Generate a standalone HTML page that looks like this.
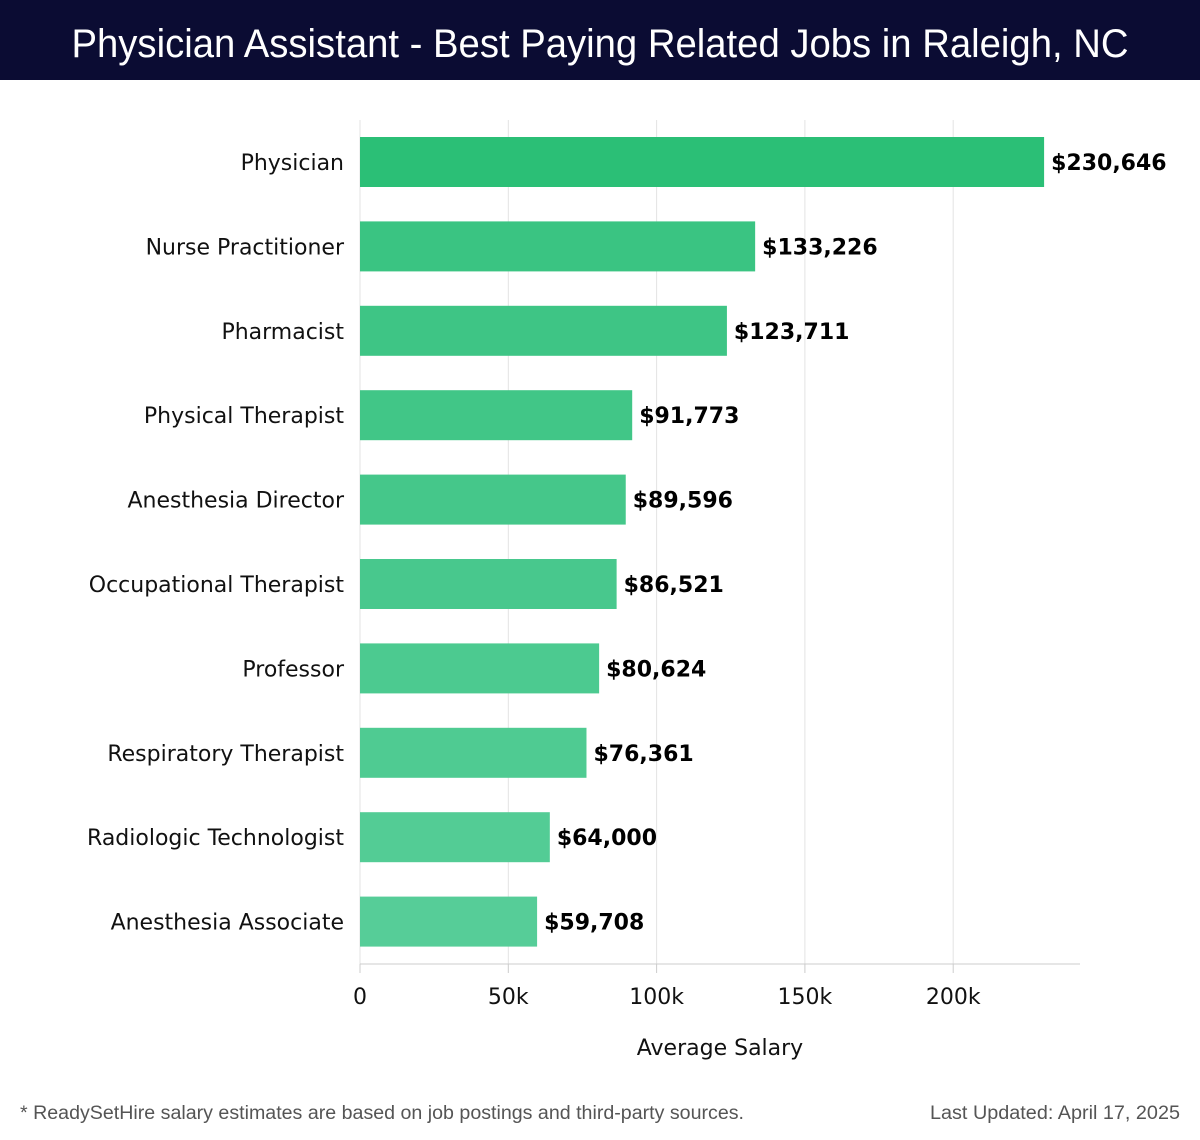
<!DOCTYPE html>
<html><head><meta charset="utf-8"><style>
html,body{margin:0;padding:0;background:#fff;}
svg{display:block;font-family:"DejaVu Sans","Liberation Sans",sans-serif;}
</style></head><body>
<svg id="chart" width="1200" height="1140" viewBox="0 0 1200 1140">
<rect x="0" y="0" width="1200" height="80" fill="#0b0c33"/>
<text x="600" y="57" text-anchor="middle" fill="#fff" font-size="40" font-family="Liberation Sans, sans-serif" textLength="1057" lengthAdjust="spacingAndGlyphs">Physician Assistant - Best Paying Related Jobs in Raleigh, NC</text>
<g id="grid"></g>
<g id="bars"></g>
<g id="axis"></g>
<text x="720" y="1055" text-anchor="middle" font-size="22" fill="#111">Average Salary</text>
<text x="20" y="1119" font-size="19" fill="#555" font-family="Liberation Sans, sans-serif" textLength="724" lengthAdjust="spacingAndGlyphs">* ReadySetHire salary estimates are based on job postings and third-party sources.</text>
<text x="1180" y="1119" text-anchor="end" font-size="19" fill="#555" font-family="Liberation Sans, sans-serif" textLength="250" lengthAdjust="spacingAndGlyphs">Last Updated: April 17, 2025</text>
</svg>
<script>
const categories = ["Physician","Nurse Practitioner","Pharmacist","Physical Therapist","Anesthesia Director","Occupational Therapist","Professor","Respiratory Therapist","Radiologic Technologist","Anesthesia Associate"];
const salaries = [230646,133226,123711,91773,89596,86521,80624,76361,64000,59708];
const tickValues = [0,50000,100000,150000,200000];
const tickLabels = ["0","50k","100k","150k","200k"];

const NS="http://www.w3.org/2000/svg";
const x0=360, pxPer=148.3/50000, plotTop=120, axisY=964, plotRight=1080;
const xs=v=>x0+v*pxPer;
const bandTop=120, band=84.4, barH=50;
const ys=i=>bandTop+17+i*band;
function mk(tag,attrs,parent){const e=document.createElementNS(NS,tag);for(const k in attrs)e.setAttribute(k,attrs[k]);parent.appendChild(e);return e;}
const grid=document.getElementById('grid'),bars=document.getElementById('bars'),axis=document.getElementById('axis');
tickValues.forEach((t,i)=>{
  const g=mk('line',{x1:xs(t),x2:xs(t),y1:plotTop,y2:axisY,stroke:'#e3e3e3','stroke-width':1},grid);
  
  
  const tk=mk('line',{x1:xs(t),x2:xs(t),y1:axisY,y2:axisY+9,stroke:'#ccc','stroke-width':1},axis);
  
  
  const lb=mk('text',{x:xs(t),y:1004,'text-anchor':'middle','font-size':22,fill:'#111'},axis);
  lb.textContent=tickLabels[i];
  
  
});
const al=mk('line',{x1:x0,x2:plotRight,y1:axisY,y2:axisY,stroke:'#ccc','stroke-width':1},axis);


const c0=[43,191,118],c1=[86,205,152];
categories.forEach((c,i)=>{
  const f=i===0?0:0.35+0.65*(i-1)/(categories.length-2);
  const col=`rgb(${c0.map((v,k)=>Math.round(v+(c1[k]-v)*f)).join(',')})`;
  const y=ys(i);
  const r=mk('rect',{x:x0,y:y,width:xs(salaries[i])-x0,height:barH,fill:col},bars);
  
  
  const cl=mk('text',{x:344,y:y+33,'text-anchor':'end','font-size':22,fill:'#111'},bars);
  cl.textContent=c;
  
  
  const vl=mk('text',{x:xs(salaries[i])+7,y:y+33,'font-size':22,'font-weight':'bold',fill:'#000'},bars);
  vl.textContent='$'+salaries[i].toLocaleString('en-US');
  
  
});
</script>
</body></html>
